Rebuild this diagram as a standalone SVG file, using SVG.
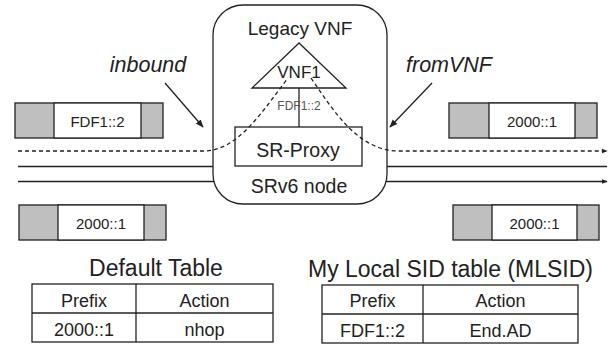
<svg xmlns="http://www.w3.org/2000/svg" width="613" height="347" viewBox="0 0 613 347">
<style>
text{font-family:"Liberation Sans",Arial,sans-serif;fill:#222;text-anchor:middle}
.ln{stroke:#222;stroke-width:1.3;fill:none}
.dash{stroke:#222;stroke-width:1.3;fill:none;stroke-dasharray:4 3}
.box{stroke:#222;stroke-width:1.3;fill:#fff}
.gray{stroke:#222;stroke-width:1.3;fill:#bfbfbf}
.pk{font-size:15px}
.tb{font-size:18px}
.ttl{font-size:23px}
.lbl{font-size:21.5px;font-style:italic}
</style>
<defs>
<marker id="ah" viewBox="0 0 10 10" refX="9" refY="5" markerWidth="6" markerHeight="6" orient="auto" markerUnits="userSpaceOnUse"><path d="M0,1 L10,5 L0,9 z" fill="#222"/></marker>
<marker id="ah2" viewBox="0 0 10 10" refX="9" refY="5" markerWidth="8" markerHeight="8" orient="auto" markerUnits="userSpaceOnUse"><path d="M0,1 L10,5 L0,9 z" fill="#222"/></marker>
</defs>
<g id="connectors">
<line class="ln" x1="18" y1="166.5" x2="607" y2="166.5"/>
<line class="ln" x1="18" y1="181.5" x2="607" y2="181.5" marker-end="url(#ah)"/>
<line class="ln" x1="165" y1="83" x2="203" y2="127" marker-end="url(#ah2)"/>
<line class="ln" x1="432" y1="83" x2="390" y2="127" marker-end="url(#ah2)"/>
</g>
<g id="srv6-node">
<rect class="box" x="213" y="5" width="174" height="199" rx="30" ry="30"/>
<text x="300" y="35" style="font-size:19px">Legacy VNF</text>
<text x="299" y="193" style="font-size:19.5px">SRv6 node</text>
</g>
<g id="vnf1">
<polygon class="box" points="299,43 252,88 346,88"/>
<text x="299" y="78" style="font-size:17px">VNF1</text>
</g>
<g id="link">
<line class="ln" x1="299" y1="88" x2="299" y2="127"/>
<text x="299" y="110" style="font-size:12px;fill:#555">FDF1::2</text>
</g>
<g id="sr-proxy">
<rect class="box" x="235" y="127" width="127" height="39"/>
<text x="298" y="157" style="font-size:19.5px">SR-Proxy</text>
</g>
<g id="dashed-flow">
<path class="dash" d="M18,151 L205,151 C238,150 262,112 288,78"/>
<path class="dash" d="M311,78 C335,113 358,150 398,151 L607,151" marker-end="url(#ah)"/>
</g>
<g id="pkt-in-top">
<rect class="gray" x="15" y="103" width="148" height="35"/>
<rect class="box" x="54" y="103" width="87" height="35"/>
<text class="pk" x="97.5" y="127">FDF1::2</text>
</g>
<g id="pkt-in-bottom">
<rect class="gray" x="19" y="205" width="147" height="35"/>
<rect class="box" x="58" y="205" width="86" height="35"/>
<text class="pk" x="101" y="229">2000::1</text>
</g>
<g id="pkt-out-top">
<rect class="gray" x="449" y="103" width="148" height="35"/>
<rect class="box" x="489" y="103" width="86" height="35"/>
<text class="pk" x="532" y="127">2000::1</text>
</g>
<g id="pkt-out-bottom">
<rect class="gray" x="453" y="205" width="146" height="35"/>
<rect class="box" x="492" y="205" width="85" height="35"/>
<text class="pk" x="534.5" y="229">2000::1</text>
</g>
<g id="label-inbound"><text class="lbl" x="148" y="72">inbound</text></g>
<g id="label-fromvnf"><text class="lbl" x="449" y="72">fromVNF</text></g>
<g id="default-table">
<text class="ttl" x="156" y="276">Default Table</text>
<rect class="box" x="32" y="284" width="241" height="58"/>
<line class="ln" x1="32" y1="313" x2="273" y2="313"/>
<line class="ln" x1="136" y1="284" x2="136" y2="342"/>
<text class="tb" x="84" y="307">Prefix</text>
<text class="tb" x="204.5" y="307">Action</text>
<text class="tb" x="84" y="336">2000::1</text>
<text class="tb" x="204.5" y="336">nhop</text>
</g>
<g id="mlsid-table">
<text class="ttl" x="450.5" y="277">My Local SID table (MLSID)</text>
<rect class="box" x="322" y="285" width="256" height="58"/>
<line class="ln" x1="322" y1="314" x2="578" y2="314"/>
<line class="ln" x1="423" y1="285" x2="423" y2="343"/>
<text class="tb" x="372.5" y="307">Prefix</text>
<text class="tb" x="500.5" y="307">Action</text>
<text class="tb" x="372.5" y="337">FDF1::2</text>
<text class="tb" x="500.5" y="337">End.AD</text>
</g>
</svg>
